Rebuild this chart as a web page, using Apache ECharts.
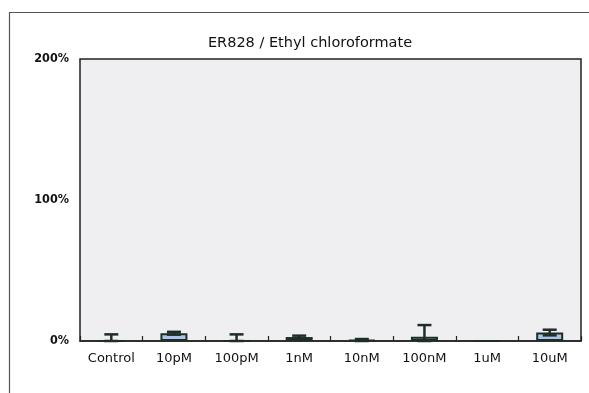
<!DOCTYPE html>
<html>
<head>
<meta charset="utf-8">
<script src="https://cdn.jsdelivr.net/npm/echarts@6/dist/echarts.min.js"></script>
<style>html,body{margin:0;padding:0;background:#fff;}#c{width:589px;height:393px;}</style>
</head>
<body>
<div id="c"></div>
<script>
var categories = ['Control','10pM','100pM','1nM','10nM','100nM','1uM','10uM'];
var means = [0, 5.5, 0, 2.8, 0.6, 3, 0, 6];
var errors = [4.7, 1, 4.7, 1, 0.8, 8.3, 0, 2];
var yTicks = [0, 100, 200];
var titleText = 'ER828 / Ethyl chloroformate';

var chart = echarts.init(document.getElementById('c'), null, {renderer: 'canvas'});
var FONT = 'DejaVu Sans';
var YFONT = '"DejaVu Sans Condensed", "DejaVu Sans", sans-serif';
var errData = categories.map(function (c, i) { return [i, means[i], errors[i]]; });

chart.setOption({
  animation: false,
  backgroundColor: '#ffffff',
  title: {
    text: titleText, left: 305, top: 31, textAlign: 'center',
    textStyle: {fontFamily: FONT, fontSize: 14.5, fontWeight: 'normal', color: '#111'}
  },
  graphic: [{
    type: 'rect', left: 7, top: 10, shape: {width: 600, height: 400},
    style: {fill: null, stroke: '#555', lineWidth: 1.2}, silent: true, z: -1
  }],
  grid: {left: 80, right: 8, top: 59, bottom: 52, show: true,
    backgroundColor: '#efeff2', borderColor: '#222', borderWidth: 1.5},
  xAxis: {
    type: 'category', data: categories, boundaryGap: true,
    axisLine: {show: true, lineStyle: {color: '#222', width: 1.5}},
    axisTick: {show: true, inside: true, length: 5, lineStyle: {color: '#222', width: 1.2}},
    axisLabel: {fontFamily: FONT, fontSize: 13, color: '#111', margin: 11}
  },
  yAxis: {
    type: 'value', min: yTicks[0], max: yTicks[yTicks.length - 1], interval: 100,
    axisLine: {show: false}, axisTick: {show: false}, splitLine: {show: false},
    axisLabel: {fontFamily: YFONT, fontSize: 12.5, fontWeight: 'bold', color: '#111', margin: 11,
      formatter: '{value}%'}
  },
  series: [{
    type: 'bar', data: means, barWidth: 27,
    itemStyle: {color: '#a9c4ea', borderColor: '#1e2d27', borderWidth: 2}
  }, {
    type: 'custom', data: errData, z: 5,
    renderItem: function (params, api) {
      var i = api.value(0), m = api.value(1), e = api.value(2);
      if (e <= 0) return;
      var hi = api.coord([i, m + e]);
      var lo = api.coord([i, Math.max(0, m - e)]);
      var hw = 7;
      var st = {stroke: '#1e2d27', lineWidth: 2.5};
      return {type: 'group', children: [
        {type: 'line', shape: {x1: hi[0], y1: hi[1], x2: lo[0], y2: lo[1]}, style: st},
        {type: 'line', shape: {x1: hi[0] - hw, y1: hi[1], x2: hi[0] + hw, y2: hi[1]}, style: st},
        {type: 'line', shape: {x1: lo[0] - hw, y1: lo[1], x2: lo[0] + hw, y2: lo[1]}, style: st}
      ]};
    }
  }]
});
</script>
</body>
</html>
